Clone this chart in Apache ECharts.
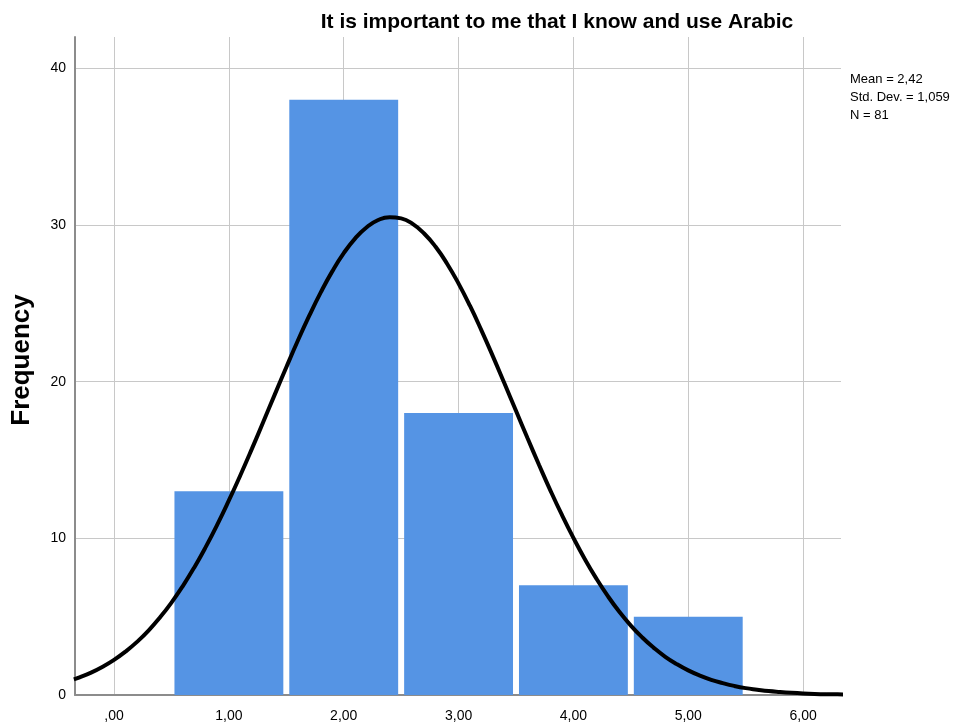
<!DOCTYPE html>
<html>
<head>
<meta charset="utf-8">
<style>html,body{margin:0;padding:0;background:#fff}#c{width:965px;height:726px}</style>
<script src="https://cdn.jsdelivr.net/npm/echarts@6/dist/echarts.min.js"></script>
</head>
<body>
<div id="c"></div>
<script>
const titleText = 'It is important to me that I know and use Arabic';
const yAxisName = 'Frequency';
const binCenters = [1, 2, 3, 4, 5];
const frequencies = [13, 38, 18, 7, 5];
const xTickValues = [0, 1, 2, 3, 4, 5, 6];
const xTickLabels = [',00', '1,00', '2,00', '3,00', '4,00', '5,00', '6,00'];
const yTickValues = [0, 10, 20, 30, 40];
const statsLines = ['Mean = 2,42', 'Std. Dev. = 1,059', 'N = 81'];
// normal curve (x, frequency)
const curveX = [-0.35, -0.3, -0.2, -0.1, 0, 0.1, 0.2, 0.3, 0.4, 0.5, 0.6, 0.7, 0.8, 0.9,
  1, 1.1, 1.2, 1.3, 1.4, 1.5, 1.6, 1.7, 1.8, 1.9, 2, 2.1, 2.2, 2.3, 2.4, 2.5, 2.6, 2.7, 2.8, 2.9,
  3, 3.1, 3.2, 3.3, 3.4, 3.5, 3.6, 3.7, 3.8, 3.9, 4, 4.1, 4.2, 4.3, 4.4, 4.5, 4.6, 4.7, 4.8, 4.9,
  5, 5.1, 5.2, 5.3, 5.4, 5.5, 5.6, 5.7, 5.8, 5.9, 6, 6.1, 6.2, 6.3, 6.35];
const curveY = [1.00, 1.13, 1.43, 1.80, 2.24, 2.77, 3.39, 4.11, 4.95, 5.90, 6.97, 8.16, 9.47, 10.89,
  12.42, 14.03, 15.71, 17.44, 19.19, 20.92, 22.61, 24.21, 25.70, 27.04, 28.20, 29.15, 29.86, 30.32, 30.50, 30.42, 30.07, 29.46, 28.61, 27.53,
  26.26, 24.83, 23.26, 21.60, 19.88, 18.14, 16.40, 14.70, 13.05, 11.49, 10.03, 8.67, 7.43, 6.31, 5.31, 4.43, 3.67, 3.01, 2.44, 1.97,
  1.57, 1.24, 0.97, 0.76, 0.58, 0.44, 0.34, 0.25, 0.19, 0.14, 0.10, 0.07, 0.05, 0.04, 0.03];

const chart = echarts.init(document.getElementById('c'), null, {renderer: 'canvas'});
const FONT = 'Liberation Sans, Arial, sans-serif';
const barHalf = 0.474;

chart.setOption({
  animation: false,
  backgroundColor: '#ffffff',
  title: {
    text: titleText,
    left: 552, top: 7,
    textAlign: 'center',
    textStyle: {fontFamily: FONT, fontSize: 21, fontWeight: 'bold', color: '#000'}
  },
  graphic: [{
    type: 'text', left: 850, top: 70,
    style: {text: statsLines.join('\n'), font: '13px ' + FONT, fill: '#000', lineHeight: 18}
  }],
  grid: {left: 75, right: 124, top: 37, bottom: 31, containLabel: false},
  xAxis: {
    type: 'value', min: -0.34, max: 6.33,
    axisLine: {show: true, onZero: false, lineStyle: {color: '#8c8c8c', width: 2}},
    axisTick: {show: false, customValues: xTickValues},
    axisLabel: {
      customValues: xTickValues, margin: 14,
      fontFamily: FONT, fontSize: 14, color: '#000',
      formatter: v => xTickLabels[xTickValues.indexOf(Math.round(v))]
    },
    splitLine: {show: true, lineStyle: {color: '#c8c8c8', width: 1}}
  },
  yAxis: {
    type: 'value', min: 0, max: 42,
    name: yAxisName, nameLocation: 'middle', nameGap: 40,
    nameTextStyle: {fontFamily: FONT, fontSize: 26, fontWeight: 'bold', color: '#000', padding: [0, 0, 0, 12]},
    axisLine: {show: true, onZero: false, lineStyle: {color: '#8c8c8c', width: 2}},
    axisTick: {show: false, customValues: yTickValues},
    axisLabel: {customValues: yTickValues, margin: 9, fontFamily: FONT, fontSize: 14, color: '#000'},
    splitLine: {show: true, lineStyle: {color: '#c8c8c8', width: 1}}
  },
  series: [{
    type: 'custom',
    data: binCenters.map((c, i) => [c, frequencies[i]]),
    renderItem: (params, api) => {
      const c = api.value(0), f = api.value(1);
      const p0 = api.coord([c - barHalf, f]);
      const p1 = api.coord([c + barHalf, 0]);
      return {type: 'rect', shape: {x: p0[0], y: p0[1], width: p1[0] - p0[0], height: p1[1] - p0[1]},
              style: {fill: '#5594e4'}};
    },
    z: 2
  }, {
    type: 'line',
    data: curveX.map((x, i) => [x, curveY[i]]),
    smooth: true, showSymbol: false, clip: true,
    lineStyle: {color: '#000', width: 4},
    z: 3
  }]
});
</script>
</body>
</html>
